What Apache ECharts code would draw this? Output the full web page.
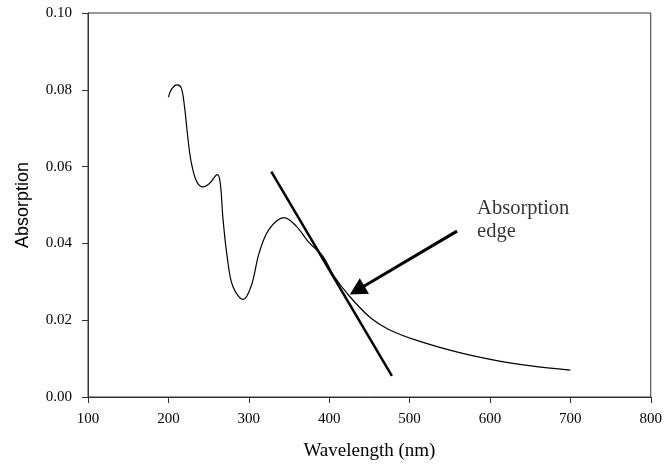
<!DOCTYPE html>
<html>
<head>
<meta charset="utf-8">
<script src="https://cdn.jsdelivr.net/npm/echarts@6/dist/echarts.min.js"></script>
<style>
  html, body { margin: 0; padding: 0; background: #fff; }
  #chart { width: 665px; height: 466px; }
</style>
</head>
<body>
<div id="chart"></div>
<script>
// absorption spectrum
var wavelength = [200, 204, 211, 216, 220, 224, 228.5, 235, 243, 251, 261, 264.5, 268, 273, 280, 293, 303, 313, 325, 344, 359, 375, 392, 406, 425, 451, 474, 511, 561, 610, 651, 700];
var absorption = [0.0781, 0.0802, 0.0813, 0.0805, 0.0757, 0.0679, 0.0610, 0.0562, 0.0547, 0.0556, 0.0579, 0.0558, 0.0462, 0.0367, 0.0289, 0.0254, 0.0289, 0.0376, 0.0436, 0.0467, 0.0445, 0.0402, 0.0367, 0.0315, 0.0263, 0.0207, 0.0176, 0.0146, 0.0116, 0.0094, 0.0081, 0.0070];

// tangent at the absorption edge
var tangentX = [328, 478];
var tangentY = [0.0587, 0.0055];

// annotation arrow (tail -> centre of the head) and its text
var arrowX = [559, 434.7];
var arrowY = [0.0432, 0.0278];
var noteText = 'Absorption\nedge';
var notePos = [584, 0.0461];

var xTicks = [100, 200, 300, 400, 500, 600, 700, 800];
var yTicks = [0.00, 0.02, 0.04, 0.06, 0.08, 0.10];

function zip(a, b) {
	var out = [];
	for (var i = 0; i < a.length; i++) out.push([a[i], b[i]]);
	return out;
}

var serif = '"Liberation Serif", "DejaVu Serif", serif';
var axisColor = '#333';

var myChart = echarts.init(document.getElementById('chart'));
myChart.setOption({
	animation: false,
	backgroundColor: '#fff',
	grid: {
		left: 88, right: 12, top: 13, bottom: 68,
		show: true,
		borderColor: axisColor,
		borderWidth: 1
	},
	xAxis: {
		type: 'value',
		min: xTicks[0],
		max: xTicks[xTicks.length - 1],
		interval: 100,
		name: 'Wavelength (nm)',
		nameLocation: 'middle',
		nameGap: 45,
		nameTextStyle: { fontFamily: serif, fontSize: 19, color: '#000' },
		axisLine: { lineStyle: { color: axisColor, width: 1 } },
		axisTick: { show: true, length: 6, inside: false, lineStyle: { color: axisColor } },
		axisLabel: { margin: 15, fontFamily: serif, fontSize: 15, color: '#000' },
		splitLine: { show: false }
	},
	yAxis: {
		type: 'value',
		min: yTicks[0],
		max: yTicks[yTicks.length - 1],
		interval: 0.02,
		name: 'Absorption',
		nameLocation: 'middle',
		nameGap: 56,
		nameRotate: 90,
		nameTextStyle: { fontFamily: '"Liberation Sans", Arial, sans-serif', fontSize: 18, color: '#000' },
		axisLine: { show: true, lineStyle: { color: axisColor, width: 1 } },
		axisTick: { show: true, length: 6, inside: false, lineStyle: { color: axisColor } },
		axisLabel: {
			margin: 16, fontFamily: serif, fontSize: 15, color: '#000',
			formatter: function (v) { return v.toFixed(2); }
		},
		splitLine: { show: false }
	},
	series: [
		{
			name: 'spectrum',
			type: 'line',
			data: zip(wavelength, absorption),
			smooth: 0.35,
			showSymbol: false,
			lineStyle: { color: '#000', width: 1.2 }
		},
		{
			name: 'tangent',
			type: 'line',
			data: zip(tangentX, tangentY),
			showSymbol: false,
			lineStyle: { color: '#000', width: 2.5 }
		},
		{
			name: 'note',
			type: 'scatter',
			data: [notePos],
			symbolSize: 0,
			label: {
				show: true,
				position: 'right',
				distance: 0,
				formatter: noteText,
				align: 'left',
				fontFamily: serif,
				fontSize: 20.5,
				lineHeight: 23,
				color: '#000'
			},
			markLine: {
				silent: true,
				symbol: ['none', 'triangle'],
				symbolSize: [18, 17],
				label: { show: false },
				lineStyle: { color: '#000', width: 3, type: 'solid' },
				data: [[
					{ coord: [arrowX[0], arrowY[0]] },
					{ coord: [arrowX[1], arrowY[1]] }
				]]
			}
		}
	]
});
</script>
</body>
</html>
